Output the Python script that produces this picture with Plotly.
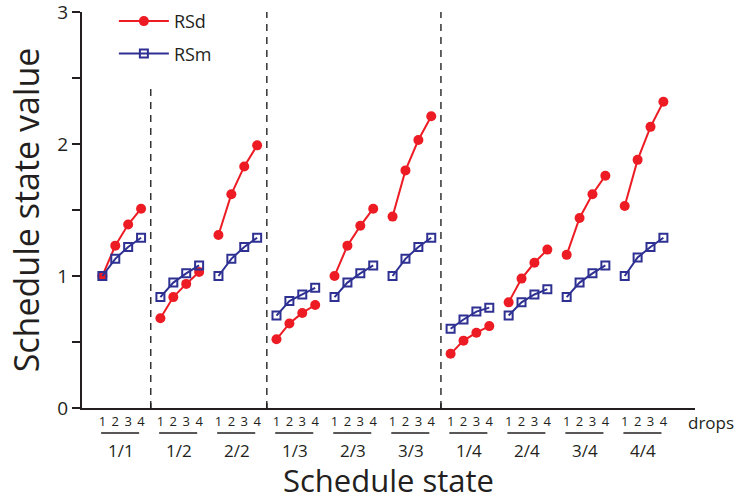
import plotly.graph_objects as go

# ---- data ----
groups = ["1/1", "1/2", "2/2", "1/3", "2/3", "3/3", "1/4", "2/4", "3/4", "4/4"]
drops = ["1", "2", "3", "4"]
rsd = [
    [1.00, 1.23, 1.39, 1.51],
    [0.68, 0.84, 0.94, 1.03],
    [1.31, 1.62, 1.83, 1.99],
    [0.52, 0.64, 0.72, 0.78],
    [1.00, 1.23, 1.38, 1.51],
    [1.45, 1.80, 2.03, 2.21],
    [0.41, 0.51, 0.57, 0.62],
    [0.80, 0.98, 1.10, 1.20],
    [1.16, 1.44, 1.62, 1.76],
    [1.53, 1.88, 2.13, 2.32],
]
rsm = [
    [1.00, 1.13, 1.22, 1.29],
    [0.84, 0.95, 1.02, 1.08],
    [1.00, 1.13, 1.22, 1.29],
    [0.70, 0.81, 0.86, 0.91],
    [0.84, 0.95, 1.02, 1.08],
    [1.00, 1.13, 1.22, 1.29],
    [0.60, 0.67, 0.73, 0.76],
    [0.70, 0.80, 0.86, 0.90],
    [0.84, 0.95, 1.02, 1.08],
    [1.00, 1.14, 1.22, 1.29],
]
divider_after = [0, 2, 5]  # dashed separators after these group indices
y_ticks = [0, 0.5, 1, 1.5, 2, 2.5, 3]
y_ticktext = ["0", "", "1", "", "2", "", "3"]

# ---- layout helpers ----
GROUP_STEP = 4.5
RED = "#ED1C24"
BLUE = "#2E3192"
INK = "#231F20"
FONT = "Open Sans"


def xpos(g, i):
    return g * GROUP_STEP + i


def series(vals):
    xs, ys = [], []
    for g, row in enumerate(vals):
        for i, v in enumerate(row):
            xs.append(xpos(g, i))
            ys.append(v)
        xs.append(None)
        ys.append(None)
    return xs, ys


fig = go.Figure()
x1, y1 = series(rsd)
fig.add_trace(go.Scatter(
    x=x1, y=y1, name="RSd", mode="lines+markers", legendgroup="a",
    line=dict(color=RED, width=2),
    marker=dict(symbol="circle", size=10, color=RED),
))
x2, y2 = series(rsm)
fig.add_trace(go.Scatter(
    x=x2, y=y2, name="RSm", mode="lines+markers", legendgroup="b",
    line=dict(color=BLUE, width=2),
    marker=dict(symbol="square-open", size=8, color=BLUE, line=dict(width=2, color=BLUE)),
))

tickvals, ticktext = [], []
for g in range(len(groups)):
    for i, d in enumerate(drops):
        tickvals.append(xpos(g, i))
        ticktext.append(d)

shapes = []
annotations = []
for k, g in enumerate(divider_after):
    xd = (xpos(g, len(drops) - 1) + xpos(g + 1, 0)) / 2
    shapes.append(dict(type="line", xref="x", yref="y", x0=xd, x1=xd,
                       y0=0, y1=(2.42 if k == 0 else 3),
                       line=dict(color="#333333", width=1.5, dash="7px,6px")))
    shapes.append(dict(type="line", xref="x", yref="paper", x0=xd, x1=xd,
                       y0=0, y1=0.012, line=dict(color=INK, width=1.5)))

for g, name in enumerate(groups):
    shapes.append(dict(type="line", xref="x", yref="paper",
                       x0=xpos(g, 0) - 0.1, x1=xpos(g, 3) - 0.15,
                       y0=-0.063, y1=-0.063, line=dict(color=INK, width=1.5)))
    annotations.append(dict(x=xpos(g, 1.45), y=-0.107, xref="x", yref="paper",
                            text=name, showarrow=False, xanchor="center", yanchor="middle",
                            font=dict(family=FONT, size=17, color=INK)))

annotations.append(dict(x=0.985, y=-0.036, xref="paper", yref="paper", text="drops",
                        showarrow=False, xanchor="left", yanchor="middle",
                        font=dict(family=FONT, size=17, color=INK)))

fig.update_layout(
    width=740, height=502,
    margin=dict(l=82, r=45, t=12, b=94, autoexpand=False),
    plot_bgcolor="white", paper_bgcolor="white",
    font=dict(family=FONT, color=INK),
    showlegend=True,
    legend=dict(x=0.052, y=1.023, xanchor="left", yanchor="top",
                bgcolor="rgba(0,0,0,0)", font=dict(family=FONT, size=18, color=INK),
                tracegroupgap=6, traceorder="grouped", itemwidth=50),
    shapes=shapes,
    annotations=annotations,
)
fig.update_xaxes(
    range=[-1.58, 45.95], showgrid=False, zeroline=False, automargin=False,
    showline=True, linecolor=INK, linewidth=2,
    tickmode="array", tickvals=tickvals, ticktext=ticktext,
    ticks="", tickfont=dict(family=FONT, size=13, color=INK),
    title=dict(text="Schedule state", font=dict(family=FONT, size=31, color=INK), standoff=42),
)
fig.update_yaxes(
    range=[-0.0005, 3.0005], showgrid=False, zeroline=False, automargin=False,
    showline=True, linecolor=INK, linewidth=2,
    tickmode="array", tickvals=y_ticks, ticktext=y_ticktext,
    ticks="outside", ticklen=8, tickwidth=2, tickcolor=INK,
    ticklabeloverflow="allow",
    tickfont=dict(family=FONT, size=19, color=INK),
    title=dict(text="Schedule state value", font=dict(family=FONT, size=34, color=INK), standoff=7),
)

fig.write_html("out.html", config={"displayModeBar": False},
               post_script="document.body.style.margin='0';")
